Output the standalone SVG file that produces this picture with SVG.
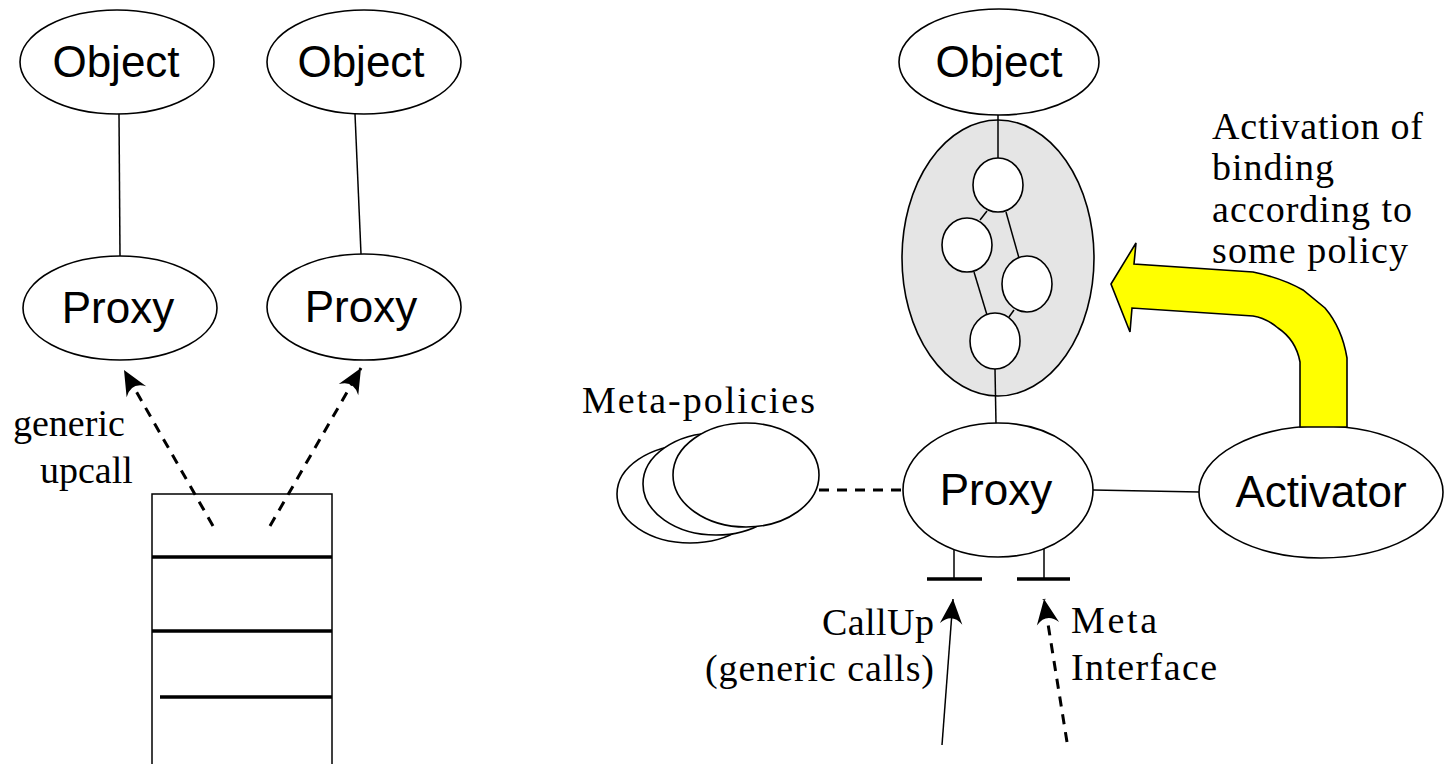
<svg xmlns="http://www.w3.org/2000/svg" width="1446" height="764" viewBox="0 0 1446 764">
  <style>
    .node { fill: #ffffff; stroke: #000000; stroke-width: 1.6; }
    .pool { fill: #e5e5e5; stroke: #000000; stroke-width: 1.6; }
    .wire { fill: none; stroke: #000000; stroke-width: 1.5; }
    .dash { fill: none; stroke: #000000; stroke-width: 3; stroke-dasharray: 10 8; }
    .bar { fill: none; stroke: #000000; stroke-width: 3.5; }
    .sans { font-family: "Liberation Sans", Arial, sans-serif; font-size: 44px; fill: #000000; text-anchor: middle; }
    .serif { font-family: "Liberation Serif", "Times New Roman", serif; font-size: 38px; fill: #000000; }
  </style>
  <defs>
    <marker id="dart" markerUnits="userSpaceOnUse" markerWidth="30" markerHeight="30" viewBox="-22 -12 24 24" refX="0" refY="0" orient="auto">
      <path d="M0,0 L-20,-9 Q-11,0 -20,9 Z" fill="#000000"/>
    </marker>
  </defs>

  <rect width="1446" height="764" fill="#ffffff"/>

  <!-- shaded binding object, drawn first so its links sit on top -->
  <g id="binding">
    <ellipse class="pool" cx="998" cy="258" rx="96" ry="138"/>
    <g id="binding-links">
      <line class="wire" x1="987" y1="211" x2="980" y2="220"/>
      <line class="wire" x1="1006" y1="212" x2="1019" y2="258"/>
      <line class="wire" x1="974" y1="272" x2="987" y2="315"/>
      <line class="wire" x1="1014" y1="310" x2="1009" y2="317"/>
    </g>
    <ellipse class="node" cx="998" cy="185" rx="25" ry="27"/>
    <ellipse class="node" cx="967" cy="245" rx="25" ry="27"/>
    <ellipse class="node" cx="1027" cy="284" rx="25" ry="28"/>
    <ellipse class="node" cx="995" cy="341" rx="25" ry="28"/>
  </g>

  <!-- connectors -->
  <g id="connectors">
    <line class="wire" x1="119" y1="114" x2="120" y2="256"/>
    <line class="wire" x1="355" y1="114" x2="361" y2="254"/>
    <line class="dash" x1="213" y1="526" x2="124" y2="370" marker-end="url(#dart)"/>
    <line class="dash" x1="270" y1="526" x2="361" y2="368" marker-end="url(#dart)"/>

    <line class="wire" x1="998" y1="115" x2="998" y2="158"/>
    <line class="wire" x1="995" y1="369" x2="996" y2="424"/>
    <line class="wire" x1="1093" y1="490" x2="1200" y2="492"/>
    <line class="dash" x1="819" y1="490" x2="904" y2="490"/>

    <line class="wire" x1="954" y1="550" x2="954" y2="578"/>
    <line class="bar" x1="927" y1="579" x2="982" y2="579"/>
    <line class="wire" x1="1044" y1="548" x2="1044" y2="578"/>
    <line class="bar" x1="1017" y1="579" x2="1070" y2="579"/>
    <line class="wire" x1="942" y1="745" x2="953" y2="599" marker-end="url(#dart)"/>
    <line class="dash" x1="1067" y1="742" x2="1044" y2="599" marker-end="url(#dart)"/>
  </g>

  <!-- left: objects and their proxies -->
  <g id="object-left-1">
    <ellipse class="node" cx="117" cy="62" rx="97" ry="52"/>
    <text class="sans" x="116" y="77">Object</text>
  </g>
  <g id="object-left-2">
    <ellipse class="node" cx="364" cy="62" rx="97" ry="52"/>
    <text class="sans" x="361" y="77">Object</text>
  </g>
  <g id="proxy-left-1">
    <ellipse class="node" cx="120" cy="308" rx="97" ry="52"/>
    <text class="sans" x="118" y="323">Proxy</text>
  </g>
  <g id="proxy-left-2">
    <ellipse class="node" cx="364" cy="307" rx="97" ry="53"/>
    <text class="sans" x="361" y="322">Proxy</text>
  </g>

  <!-- protocol stack -->
  <g id="stack">
    <rect class="wire" x="152" y="494" width="180" height="280"/>
    <line class="bar" x1="152" y1="557" x2="332" y2="557"/>
    <line class="bar" x1="152" y1="631" x2="332" y2="631"/>
    <line class="bar" x1="160" y1="697" x2="332" y2="697"/>
  </g>
  <g id="label-upcall">
    <text class="serif" font-size="41" x="13" y="436">generic</text>
    <text class="serif" font-size="41" x="40" y="483">upcall</text>
  </g>

  <!-- right: object, proxy, activator -->
  <g id="object-right">
    <ellipse class="node" cx="999" cy="62" rx="100" ry="53"/>
    <text class="sans" x="999" y="77">Object</text>
  </g>
  <g id="proxy-right">
    <ellipse class="node" cx="998" cy="490" rx="95" ry="67"/>
    <text class="sans" x="996" y="505">Proxy</text>
  </g>
  <g id="activator">
    <ellipse class="node" cx="1321" cy="492" rx="122" ry="66"/>
    <text class="sans" x="1321" y="507">Activator</text>
  </g>
  <g id="meta-policies">
    <ellipse class="node" cx="690" cy="494" rx="73" ry="49"/>
    <ellipse class="node" cx="716" cy="484" rx="73" ry="51"/>
    <ellipse class="node" cx="746" cy="475" rx="73" ry="52"/>
    <text class="serif" font-size="39" x="582" y="413" textLength="233" lengthAdjust="spacing">Meta-policies</text>
  </g>

  <!-- activation arrow -->
  <g id="activation">
    <path d="M1111,284 L1136,243 L1134,264 L1253,272 Q1282,278 1303,290 L1325,308 Q1342,328 1347,358 L1347,427 L1300,427 L1300,362 Q1296,340 1278,328 Q1266,318 1253,316 L1132,308 L1130,332 Z" fill="#ffff00" stroke="#000000" stroke-width="1.6" stroke-linejoin="miter"/>
    <text class="serif" font-size="36" x="1212" y="139" textLength="211" lengthAdjust="spacing">Activation of</text>
    <text class="serif" font-size="36" x="1212" y="180" textLength="122" lengthAdjust="spacing">binding</text>
    <text class="serif" font-size="36" x="1212" y="222" textLength="200" lengthAdjust="spacing">according to</text>
    <text class="serif" font-size="36" x="1212" y="263" textLength="196" lengthAdjust="spacing">some policy</text>
  </g>

  <!-- interface labels -->
  <g id="label-callup">
    <text class="serif" x="822" y="635" textLength="112" lengthAdjust="spacing">CallUp</text>
    <text class="serif" x="705" y="681" textLength="229" lengthAdjust="spacing">(generic calls)</text>
  </g>
  <g id="label-meta">
    <text class="serif" x="1071" y="633" textLength="86" lengthAdjust="spacing">Meta</text>
    <text class="serif" x="1071" y="680" textLength="146" lengthAdjust="spacing">Interface</text>
  </g>
</svg>
